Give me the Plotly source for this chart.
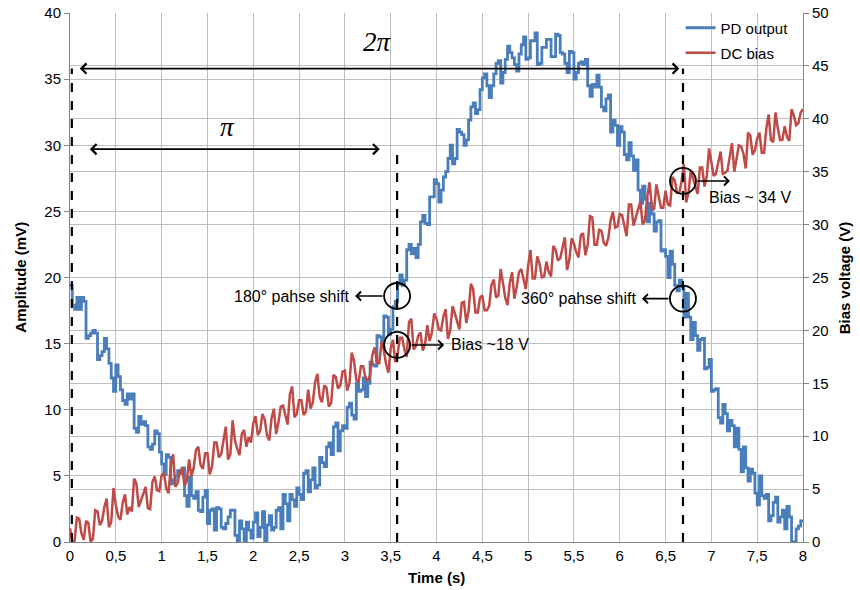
import plotly.graph_objects as go

# ---------------- data ----------------
TIME = [round(i * 0.025, 3) for i in range(321)]  # sample instants, 0 .. 8 s

PD_OUTPUT_MV = [
    19.4, 17.9, 17.6, 18.5, 17.6, 18.5, 18.2, 15.4, 15.6, 15.8, 16.0, 15.8, 13.8, 14.1, 14.4, 15.4, 14.6, 13.5, 12.4, 11.4,
    13.4, 12.5, 11.5, 10.7, 10.4, 11.2, 10.8, 11.2, 8.6, 8.3, 9.5, 8.9, 9.1, 8.8, 7.2, 7.0, 7.4, 8.4, 8.2, 6.8,
    5.9, 5.1, 6.6, 6.4, 4.4, 4.7, 5.0, 5.4, 5.2, 5.6, 3.5, 2.7, 4.9, 3.5, 3.3, 3.8, 2.4, 2.3, 3.4, 3.9,
    1.4, 2.4, 2.5, 0.9, 2.6, 2.5, 1.1, 1.0, 1.4, 1.9, 2.4, 2.4, 0.5, 0.0, 1.6, 1.0, 0.0, 1.5, 0.9, 0.3,
    1.5, 2.2, 0.4, 1.1, 2.3, 0.0, 1.3, 2.0, 0.9, 1.1, 2.4, 2.6, 1.0, 3.6, 2.9, 1.6, 3.6, 3.2, 2.7, 4.1,
    3.6, 3.2, 5.2, 5.4, 3.8, 4.7, 5.6, 4.1, 4.3, 6.4, 6.0, 5.7, 7.2, 7.5, 6.6, 8.7, 9.0, 6.9, 8.4, 8.8,
    8.6, 10.2, 10.5, 9.6, 9.3, 12.0, 11.4, 11.5, 12.4, 11.0, 12.0, 13.6, 13.4, 13.3, 15.6, 15.5, 14.8, 17.1, 17.0, 15.7,
    16.1, 17.8, 18.2, 19.5, 20.2, 19.4, 19.8, 22.1, 22.5, 21.8, 22.2, 21.5, 22.5, 24.2, 24.7, 24.1, 24.0, 26.1, 26.1, 27.4,
    27.1, 25.7, 26.6, 27.6, 28.0, 29.0, 30.0, 28.6, 29.0, 31.2, 31.0, 30.8, 30.0, 30.4, 31.9, 32.9, 33.2, 32.4, 32.7, 34.2,
    35.1, 35.4, 34.5, 33.6, 34.5, 35.4, 36.2, 36.4, 34.7, 35.5, 36.5, 37.5, 37.0, 36.6, 36.1, 35.6, 36.9, 37.6, 38.2, 36.5,
    36.6, 37.9, 37.9, 38.5, 36.1, 36.2, 37.4, 37.4, 38.0, 38.0, 36.7, 36.7, 38.4, 38.3, 37.0, 36.9, 36.2, 35.5, 37.1, 37.0,
    35.0, 35.5, 36.2, 36.3, 36.1, 36.5, 34.5, 33.7, 34.6, 34.4, 35.3, 34.4, 32.9, 32.6, 33.5, 33.8, 31.0, 31.9, 31.5, 30.0,
    31.4, 31.0, 29.3, 28.9, 30.2, 29.2, 28.1, 28.9, 26.6, 25.6, 26.9, 25.9, 24.2, 25.6, 24.8, 23.5, 24.2, 24.3, 22.0, 22.1,
    21.6, 20.0, 22.0, 21.0, 19.4, 19.0, 19.8, 19.3, 17.0, 18.8, 17.0, 15.3, 16.6, 15.6, 14.5, 15.3, 15.4, 13.1, 13.2, 13.8,
    11.4, 11.5, 11.6, 9.4, 9.0, 10.4, 9.7, 8.4, 9.2, 8.8, 7.2, 8.6, 7.0, 5.3, 7.2, 5.6, 4.6, 5.5, 5.2, 3.7,
    2.8, 5.0, 3.5, 3.3, 3.6, 1.6, 2.0, 3.0, 3.4, 1.5, 1.9, 2.4, 1.0, 2.7, 1.9, 0.0, 0.0, 1.0, 1.2, 1.6,
    1.6,
]

DC_BIAS_V = [
    1.3, 0.0, 0.1, 2.3, 2.2, 0.8, 0.2, 2.0, 1.8, 0.0, 0.3, 3.0, 2.9, 1.6, 2.0, 3.3, 4.1, 1.4, 1.9, 5.1,
    3.5, 2.4, 2.1, 3.7, 4.5, 2.6, 3.3, 2.9, 6.0, 5.5, 3.3, 4.0, 4.7, 5.2, 3.2, 3.1, 5.7, 6.2, 4.9, 4.8,
    6.3, 6.5, 5.1, 4.6, 7.2, 8.3, 5.2, 5.6, 6.7, 7.0, 5.3, 5.8, 7.8, 6.2, 7.0, 8.7, 9.0, 7.3, 6.9, 8.4,
    8.4, 6.4, 7.1, 9.4, 9.4, 8.0, 8.3, 9.7, 10.9, 7.8, 8.3, 11.5, 9.6, 8.8, 8.2, 10.2, 10.6, 9.0, 9.9, 9.4,
    11.2, 11.9, 10.1, 10.5, 12.1, 11.6, 10.1, 9.6, 11.7, 12.6, 10.2, 11.3, 12.8, 12.9, 11.9, 11.1, 14.0, 14.7, 11.8, 12.1,
    13.4, 13.4, 12.0, 12.3, 14.4, 12.6, 13.2, 15.1, 15.9, 13.7, 13.2, 14.8, 14.6, 12.8, 13.1, 15.8, 15.6, 14.5, 14.8, 16.1,
    16.2, 14.3, 15.0, 17.9, 17.1, 15.3, 15.1, 16.6, 16.6, 15.5, 15.2, 15.8, 17.7, 18.4, 16.9, 16.9, 18.9, 18.1, 16.8, 16.0,
    18.3, 19.1, 17.0, 17.7, 19.3, 19.3, 18.2, 17.5, 20.8, 21.1, 18.2, 18.5, 19.5, 19.8, 18.1, 18.7, 20.5, 19.0, 19.8, 21.6,
    21.1, 20.1, 20.0, 21.3, 22.0, 19.2, 20.0, 22.3, 21.6, 20.9, 20.1, 22.6, 22.7, 20.7, 21.8, 24.4, 23.9, 21.7, 21.7, 23.1,
    23.3, 21.9, 21.9, 22.3, 24.3, 24.8, 23.1, 23.3, 25.8, 24.5, 23.1, 22.4, 24.5, 25.5, 23.0, 24.1, 25.5, 25.8, 24.7, 23.9,
    26.1, 27.6, 24.9, 24.9, 27.0, 26.3, 25.0, 25.1, 26.5, 25.5, 25.1, 28.0, 27.6, 26.6, 26.8, 27.7, 28.8, 25.7, 26.7, 28.7,
    28.2, 27.4, 26.9, 29.0, 29.2, 27.1, 28.1, 30.8, 30.7, 28.1, 28.1, 29.5, 29.4, 28.3, 28.0, 28.7, 30.4, 31.2, 29.7, 29.8,
    31.0, 30.9, 29.9, 28.9, 31.9, 31.9, 29.9, 30.6, 31.5, 32.2, 30.0, 30.4, 32.6, 34.0, 31.7, 31.4, 33.8, 32.7, 31.6, 31.6,
    33.2, 31.9, 31.8, 34.5, 34.2, 33.0, 33.0, 34.1, 35.7, 32.1, 33.0, 35.1, 34.4, 33.8, 32.9, 35.4, 35.4, 33.6, 34.6, 37.2,
    36.0, 34.6, 34.8, 35.9, 36.9, 34.8, 34.9, 35.1, 36.4, 37.7, 35.0, 36.2, 37.5, 37.4, 36.7, 35.3, 38.7, 38.4, 36.6, 37.0,
    38.1, 38.7, 36.8, 36.8, 39.1, 40.4, 38.0, 37.8, 40.6, 39.1, 38.0, 38.0, 39.3, 38.3, 37.9, 40.9, 40.3, 39.4, 39.6, 40.6,
    40.9,
]

X_TICK_VALUES = [0, 0.5, 1, 1.5, 2, 2.5, 3, 3.5, 4, 4.5, 5, 5.5, 6, 6.5, 7, 7.5, 8]
X_TICK_LABELS = ["0", "0,5", "1", "1,5", "2", "2,5", "3", "3,5", "4", "4,5",
                 "5", "5,5", "6", "6,5", "7", "7,5", "8"]

SERIES_NAMES = ["PD output", "DC bias"]

# ---------------- styling ----------------
FONT = "Liberation Sans, Arial, sans-serif"
SERIF = "Liberation Serif, Times New Roman, serif"
BLUE = "#4A7EBB"
RED = "#BE4B48"
GRID = "#BEBEBE"
AXIS = "#868686"

fig = go.Figure()
fig.add_trace(go.Scatter(
    x=TIME, y=PD_OUTPUT_MV, name=SERIES_NAMES[0], mode="lines",
    line=dict(color=BLUE, width=2.8, shape="hv"), yaxis="y", legend="legend",
))
fig.add_trace(go.Scatter(
    x=TIME, y=DC_BIAS_V, name=SERIES_NAMES[1], mode="lines",
    line=dict(color=RED, width=2.5), yaxis="y2", legend="legend2",
))

# dashed markers
dash_lines = [(0.02, 35.8), (3.57, 29.7), (6.69, 35.8)]
shapes = []
for xv, ytop in dash_lines:
    shapes.append(dict(type="line", xref="x", yref="y", x0=xv, x1=xv, y0=0, y1=ytop,
                       line=dict(color="black", width=2.2, dash="dash")))

# circles (pixel sized, anchored to data points)
circles = [(3.57, 18.6), (3.57, 14.9), (6.69, 27.3), (6.69, 18.4)]
for cx, cy in circles:
    shapes.append(dict(type="circle", xref="x", yref="y", xsizemode="pixel", ysizemode="pixel",
                       xanchor=cx, yanchor=cy, x0=-13, x1=13, y0=-13, y1=13,
                       line=dict(color="black", width=1.8)))

annotations = []
# double-headed arrows
for x_end, x_start, yv in [(6.65, 0.09, 35.8), (3.38, 0.2, 29.7)]:
    annotations.append(dict(x=x_end, y=yv, ax=x_start, ay=yv, xref="x", yref="y", axref="x", ayref="y",
                            text="", showarrow=True, arrowhead=4, startarrowhead=4, arrowside="end+start",
                            arrowsize=1.1, startarrowsize=1.1, arrowwidth=1.8, arrowcolor="black"))
annotations.append(dict(x=3.36, y=37.8, xref="x", yref="y", text="<i>2π</i>", showarrow=False,
                        font=dict(family=SERIF, size=27, color="black")))
annotations.append(dict(x=1.72, y=31.4, xref="x", yref="y", text="<i>π</i>", showarrow=False,
                        font=dict(family=SERIF, size=27, color="black")))

# short pointing arrows from circles
small_arrows = [
    (3.57, 18.6, -42),
    (3.57, 14.9, 47),
    (6.69, 27.3, 47),
    (6.69, 18.4, -41),
]
R = 13
for hx, hy, dx in small_arrows:
    annotations.append(dict(x=hx, y=hy, xref="x", yref="y", text="", showarrow=True,
                            ax=(R if dx > 0 else -R) - dx, ay=0, axref="pixel", ayref="pixel",
                            xshift=dx, arrowhead=4, arrowsize=1.1, arrowwidth=1.6, arrowcolor="black"))

text_font = dict(family=FONT, size=16, color="black")
annotations.append(dict(x=3.57, y=18.6, xref="x", yref="y", xshift=-46, xanchor="right",
                        text="180° pahse shift", showarrow=False, font=text_font))
annotations.append(dict(x=3.57, y=14.9, xref="x", yref="y", xshift=52, xanchor="left",
                        text="Bias ~18 V", showarrow=False, font=text_font))
annotations.append(dict(x=6.69, y=27.3, xref="x", yref="y", xshift=24, yshift=-17, xanchor="left",
                        text="Bias ~ 34 V", showarrow=False, font=text_font))
annotations.append(dict(x=6.69, y=18.4, xref="x", yref="y", xshift=-45, xanchor="right",
                        text="360° pahse shift", showarrow=False, font=text_font))

# axis titles (paper coordinates)
title_font = dict(family=FONT, size=15, color="black", weight="bold")
annotations.append(dict(x=0.5, y=-0.068, xref="paper", yref="paper", text="Time (s)", showarrow=False,
                        font=title_font, yanchor="middle"))
annotations.append(dict(x=-0.068, y=0.5, xref="paper", yref="paper", text="Amplitude (mV)",
                        showarrow=False, textangle=-90, font=title_font, xanchor="center"))
annotations.append(dict(x=1.057, y=0.5, xref="paper", yref="paper", text="Bias voltage (V)",
                        showarrow=False, textangle=-90, font=title_font, xanchor="center"))

legend_common = dict(xanchor="left", yanchor="middle", bgcolor="rgba(0,0,0,0)",
                     font=dict(family=FONT, size=15), itemwidth=30)

fig.update_layout(
    width=860, height=590,
    margin=dict(l=70, r=57, t=13, b=48, autoexpand=False),
    paper_bgcolor="white", plot_bgcolor="white",
    font=dict(family=FONT, size=15, color="black"),
    showlegend=True,
    legend=dict(x=0.833, y=1 - 15 / 529, **legend_common),
    legend2=dict(x=0.833, y=1 - 40 / 529, **legend_common),
    xaxis=dict(range=[0, 8], tickvals=X_TICK_VALUES, ticktext=X_TICK_LABELS, automargin=False,
               showgrid=True, gridcolor=GRID, gridwidth=1, zeroline=False,
               showline=True, linecolor=AXIS, linewidth=1, ticks="",
               tickfont=dict(size=15)),
    yaxis=dict(range=[0, 40], dtick=5, automargin=False,
               showgrid=True, gridcolor=GRID, gridwidth=1, zeroline=False,
               showline=True, linecolor=AXIS, linewidth=1, ticks="outside", ticklen=5, tickcolor=AXIS,
               tickfont=dict(size=15)),
    yaxis2=dict(range=[0, 50], dtick=5, overlaying="y", side="right", automargin=False,
                showgrid=True, gridcolor=GRID, gridwidth=1, zeroline=False,
                showline=True, linecolor=AXIS, linewidth=1, ticks="outside", ticklen=5, tickcolor=AXIS,
                tickfont=dict(size=15)),
    shapes=shapes,
    annotations=annotations,
)

# remove the default 8 px page margin so the 860x590 figure fills the window exactly
fig.write_html("out.html", config={"displayModeBar": False},
               post_script="document.body.style.margin='0';")
